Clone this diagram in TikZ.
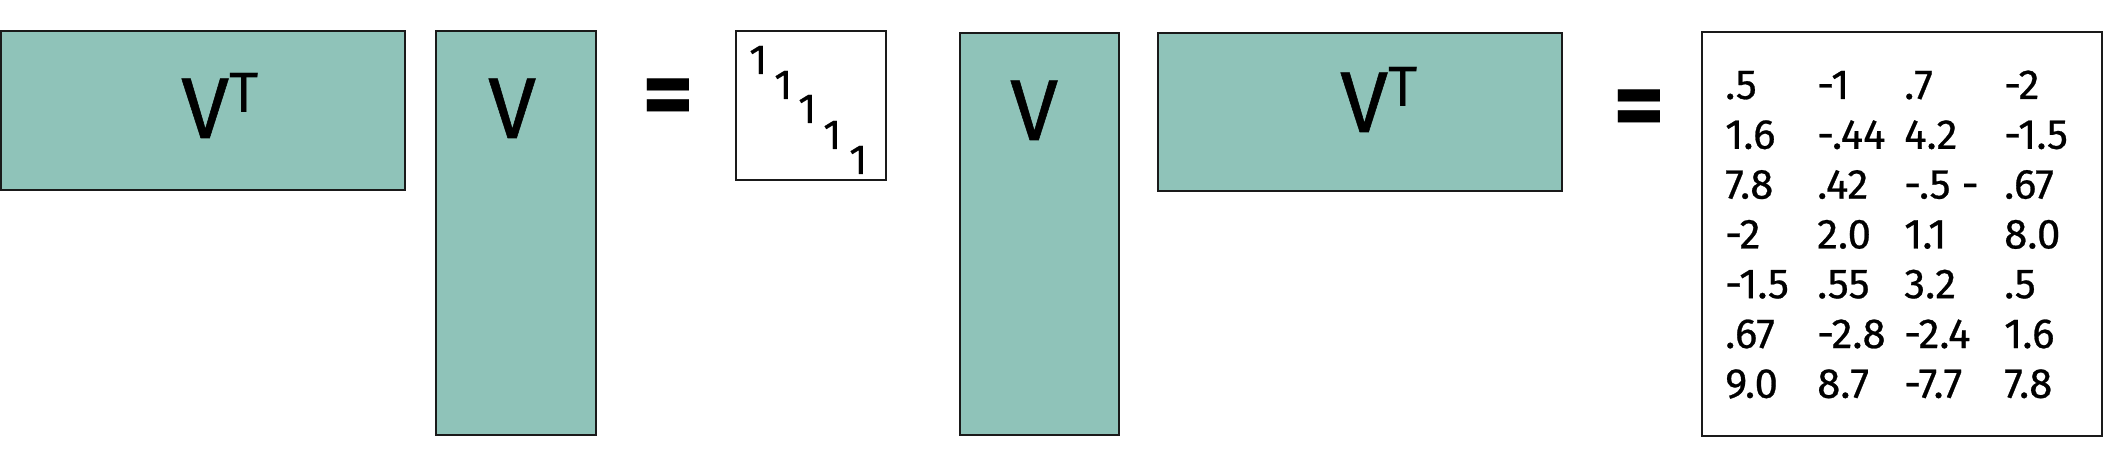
\documentclass[tikz,border=0pt]{standalone}
\usepackage{fontspec}
\setmainfont{Fira Sans}
\newfontfamily\heavyfont{Fira Sans}[FakeBold=0.6]
\definecolor{matfill}{HTML}{8FC3B9}
\definecolor{edgecol}{HTML}{1A1A1A}
\begin{document}
\begin{tikzpicture}[x=1pt,y=-1pt,
  matbox/.style={draw=edgecol,line width=2pt,fill=matfill,rectangle,inner sep=0pt,outer sep=0pt,anchor=north west},
  plainbox/.style={draw=edgecol,line width=2pt,fill=white,rectangle,inner sep=0pt,outer sep=0pt,anchor=north west},
  biglabel/.style={anchor=base west,inner sep=0pt,font=\heavyfont\fontsize{86}{86}\selectfont},
  eqsign/.style={inner sep=0pt,font=\fontsize{100}{100}\selectfont\bfseries},
  cell/.style={anchor=base west,inner sep=0pt,font=\heavyfont\fontsize{42}{42}\selectfont},
]
\useasboundingbox (0,0) rectangle (2106,470);
\newcommand{\supT}{\raisebox{25pt}{\rmfamily\fontsize{57}{57}\selectfont T}}
% boxes
\node[matbox,minimum width=404pt,minimum height=159pt] (vt1) at (1,31) {};
\node[matbox,minimum width=160pt,minimum height=404pt] (v1) at (436,31) {};
\node[plainbox,minimum width=150pt,minimum height=149pt] (id) at (736,31) {};
\node[matbox,minimum width=159pt,minimum height=402pt] (v2) at (960,33) {};
\node[matbox,minimum width=404pt,minimum height=158pt] (vt2) at (1158,33) {};
\node[plainbox,minimum width=400pt,minimum height=404pt] (res) at (1702,32) {};
% labels
\node[biglabel] (lvt1) at (181,138) {V\supT};
\node[biglabel] (lv1) at (488,138) {V};
\node[biglabel] (lv2) at (1010,140) {V};
\node[biglabel] (lvt2) at (1340,132) {V\supT};
% equals
\node[eqsign] (eq1) at (668,104) {=};
\node[eqsign] (eq2) at (1639,115) {=};
% identity ones
\foreach \k/\xx/\yy in {1/749/74,2/774/99,3/798/123,4/823/149,5/849/174}
  \node[cell] (one\k) at (\xx,\yy) {1};
% result matrix
\foreach \r/\a/\b/\c/\d in {1/.5/-1/.7/-2,
  2/1.6/-.44/4.2/-1.5,
  3/7.8/.42/-.5 -/.67,
  4/-2/2.0/1.1/8.0,
  5/-1.5/.55/3.2/.5,
  6/.67/-2.8/-2.4/1.6,
  7/9.0/8.7/-7.7/7.8}{
  \pgfmathsetmacro{\yb}{99+49.8*(\r-1)}
  \node[cell] (m\r a) at (1725,\yb) {\a};
  \node[cell] (m\r b) at (1817,\yb) {\b};
  \node[cell] (m\r c) at (1904,\yb) {\c};
  \node[cell] (m\r d) at (2004,\yb) {\d};
}
\end{tikzpicture}
\end{document}
